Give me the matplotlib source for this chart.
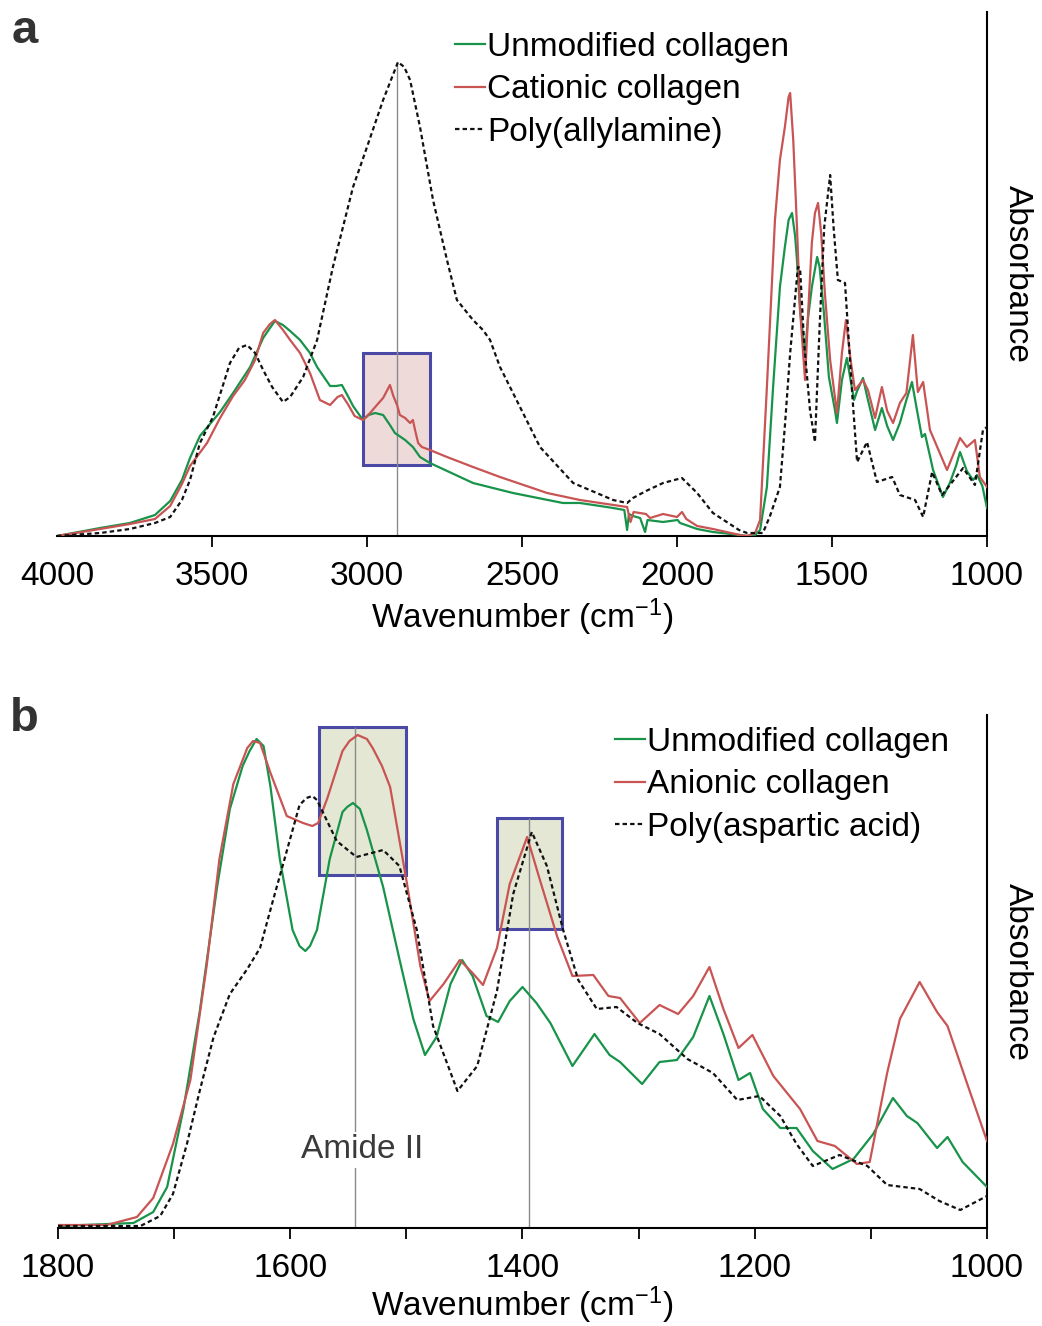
import numpy as np
import matplotlib
matplotlib.use("Agg")
import matplotlib.pyplot as plt
from matplotlib.patches import Rectangle

# Espectros FTIR (absorbancia en unidades arbitrarias)
# Panel a: colageno sin modificar, colageno cationico, poli(alilamina)
wn_a_unmod = [4000, 3861, 3765, 3684, 3635, 3597, 3571, 3539, 3474, 3432, 3377, 3335, 3313, 3297, 3271,
              3248, 3216, 3184, 3161, 3119, 3100, 3081, 3060, 3045, 3013, 2995, 2974, 2948, 2926, 2910,
              2877, 2852, 2829, 2797, 2658, 2529, 2368, 2313, 2248, 2206, 2170, 2161, 2155, 2142, 2119,
              2103, 2095, 2045, 1998, 1990, 1935, 1884, 1797, 1774, 1748, 1732, 1710, 1690, 1668, 1652,
              1640, 1629, 1619, 1613, 1603, 1587, 1577, 1565, 1548, 1540, 1526, 1510, 1490, 1484, 1468,
              1452, 1440, 1429, 1419, 1400, 1387, 1361, 1339, 1322, 1303, 1281, 1260, 1242, 1226, 1210,
              1200, 1184, 1174, 1142, 1120, 1100, 1087, 1065, 1045, 1032, 1015, 1000]
abs_a_unmod = [0, 8, 13, 21, 35, 56, 78, 100, 124, 143, 169, 198, 208, 215, 211,
               205, 196, 183, 169, 150, 150, 151, 139, 130, 116, 121, 123, 121, 111, 103,
               96, 89, 79, 73, 53, 43, 33, 33, 30, 28, 26, 6, 22, 20, 18,
               4, 16, 14, 16, 13, 7, 4, 1, 0, 1, 6, 49, 149, 249, 289,
               316, 323, 300, 276, 226, 183, 219, 249, 279, 269, 223, 159, 125, 113, 156,
               178, 156, 136, 145, 158, 140, 106, 128, 110, 96, 113, 136, 154, 126, 99,
               102, 80, 66, 39, 53, 70, 84, 65, 56, 61, 50, 28]

wn_a_cat = [4000, 3861, 3765, 3684, 3635, 3597, 3571, 3516, 3474, 3432, 3394, 3361, 3335, 3313, 3297,
            3271, 3248, 3216, 3184, 3152, 3119, 3095, 3081, 3060, 3040, 3013, 2990, 2968, 2948, 2926,
            2915, 2903, 2894, 2877, 2861, 2852, 2845, 2835, 2823, 2797, 2742, 2658, 2571, 2419, 2313,
            2248, 2161, 2150, 2140, 2100, 2087, 2045, 2000, 1984, 1970, 1935, 1884, 1797, 1774, 1748,
            1732, 1710, 1684, 1668, 1652, 1640, 1635, 1625, 1613, 1603, 1587, 1577, 1565, 1555, 1545,
            1535, 1523, 1506, 1484, 1468, 1455, 1440, 1426, 1400, 1384, 1361, 1339, 1322, 1303, 1281,
            1260, 1239, 1223, 1206, 1184, 1129, 1087, 1065, 1039, 1023, 1000]
abs_a_cat = [0, 7, 12, 17, 30, 52, 70, 93, 118, 140, 156, 176, 203, 212, 216,
             206, 196, 183, 163, 136, 131, 139, 141, 131, 120, 116, 123, 131, 138, 151,
             140, 131, 121, 118, 113, 116, 106, 93, 89, 86, 79, 69, 59, 43, 36,
             33, 29, 14, 24, 22, 18, 22, 19, 24, 17, 10, 7, 1, 0, 3,
             16, 149, 316, 376, 409, 439, 443, 396, 309, 226, 156, 223, 293, 323, 333,
             303, 243, 176, 123, 183, 216, 176, 146, 156, 146, 118, 149, 125, 113, 133,
             143, 201, 144, 154, 106, 66, 98, 89, 96, 59, 49]

wn_a_paa = [4000, 3861, 3765, 3684, 3635, 3597, 3571, 3539, 3497, 3442, 3413, 3387, 3361, 3335, 3306,
            3271, 3248, 3206, 3161, 3110, 3045, 3000, 2948, 2900, 2880, 2861, 2829, 2787, 2742, 2710,
            2658, 2626, 2603, 2571, 2529, 2442, 2335, 2206, 2161, 2142, 2100, 2045, 1984, 1935, 1884,
            1800, 1774, 1723, 1700, 1668, 1652, 1635, 1610, 1603, 1590, 1571, 1555, 1540, 1525, 1506,
            1495, 1481, 1458, 1435, 1419, 1387, 1355, 1306, 1281, 1232, 1206, 1177, 1145, 1077, 1039,
            1013, 1000]
abs_a_paa = [0, 3, 7, 13, 19, 36, 56, 93, 119, 173, 188, 191, 183, 166, 149,
             134, 139, 159, 196, 269, 349, 389, 436, 474, 469, 456, 409, 336, 276, 236,
             216, 206, 196, 169, 143, 89, 53, 36, 33, 38, 45, 53, 58, 43, 23,
             6, 3, 3, 20, 49, 110, 183, 269, 268, 193, 126, 94, 209, 309, 361,
             309, 256, 253, 143, 74, 94, 54, 59, 41, 36, 19, 64, 41, 68, 51,
             106, 109]

# Panel b: colageno sin modificar, colageno anionico, poli(acido aspartico)
wn_b_unmod = [1800, 1735, 1718, 1706, 1692, 1678, 1663, 1652, 1641, 1635, 1629, 1623, 1617, 1609, 1598,
              1592, 1587, 1583, 1577, 1566, 1555, 1551, 1546, 1540, 1534, 1520, 1506, 1494, 1484, 1474,
              1462, 1452, 1443, 1431, 1421, 1411, 1400, 1388, 1376, 1357, 1338, 1325, 1316, 1297, 1282,
              1267, 1253, 1239, 1227, 1214, 1204, 1193, 1178, 1164, 1150, 1133, 1115, 1098, 1081, 1069,
              1060, 1043, 1034, 1021, 1000]
abs_b_unmod = [2, 5, 16, 41, 119, 216, 341, 419, 462, 477, 489, 482, 441, 369, 298,
               282, 277, 282, 298, 369, 416, 421, 425, 419, 398, 341, 269, 209, 173, 191,
               244, 268, 252, 212, 206, 227, 241, 225, 205, 162, 194, 173, 166, 144, 166,
               168, 191, 232, 194, 148, 155, 119, 100, 100, 77, 59, 69, 94, 130, 112,
               105, 80, 91, 66, 41]

wn_b_anion = [1800, 1758, 1732, 1718, 1701, 1686, 1672, 1661, 1649, 1637, 1632, 1626, 1617, 1603, 1589,
              1581, 1576, 1568, 1555, 1549, 1542, 1534, 1529, 1521, 1514, 1500, 1488, 1480, 1468, 1454,
              1443, 1434, 1422, 1411, 1396, 1385, 1370, 1357, 1339, 1326, 1316, 1299, 1282, 1266, 1253,
              1239, 1227, 1214, 1202, 1184, 1161, 1146, 1131, 1112, 1101, 1086, 1075, 1058, 1043, 1034,
              1017, 1000]
abs_b_anion = [3, 3, 11, 30, 84, 148, 262, 369, 444, 480, 487, 485, 455, 412, 405,
               402, 405, 430, 477, 487, 493, 489, 480, 462, 441, 348, 262, 227, 244, 268,
               255, 243, 280, 344, 391, 348, 291, 252, 253, 232, 230, 205, 223, 214, 232,
               261, 219, 180, 193, 152, 119, 87, 82, 64, 66, 155, 209, 246, 216, 202,
               144, 87]

wn_b_pasp = [1800, 1729, 1712, 1701, 1689, 1678, 1666, 1652, 1637, 1626, 1615, 1603, 1592, 1586, 1581,
             1577, 1572, 1560, 1543, 1520, 1506, 1491, 1477, 1456, 1439, 1422, 1408, 1392, 1379, 1365,
             1352, 1336, 1319, 1301, 1282, 1258, 1236, 1215, 1196, 1178, 1164, 1150, 1127, 1103, 1086,
             1058, 1041, 1023, 1000]
abs_b_pasp = [2, 2, 12, 34, 84, 137, 191, 234, 259, 280, 327, 377, 423, 430, 432,
              428, 416, 387, 371, 378, 362, 298, 202, 137, 162, 237, 334, 396, 362, 298,
              248, 219, 221, 205, 194, 169, 155, 128, 132, 112, 84, 62, 73, 62, 43,
              39, 27, 18, 32]

labels_a = ["Unmodified collagen", "Cationic collagen", "Poly(allylamine)"]
labels_b = ["Unmodified collagen", "Anionic collagen", "Poly(aspartic acid)"]

GREEN = "#17934a"
RED = "#c85453"
BLACK = "#111111"
GRAY = "#8a8a8a"
EDGE = "#4a4aa6"
FS = 24

plt.rcParams["font.family"] = ["Liberation Sans", "DejaVu Sans"]
plt.rcParams["mathtext.fontset"] = "custom"
plt.rcParams["mathtext.rm"] = "Liberation Sans"
plt.rcParams["mathtext.default"] = "regular"

W, H = 1042, 1326
fig = plt.figure(figsize=(W / 100, H / 100), dpi=100)
ax_a = fig.add_axes([57 / W, 1 - 536 / H, 930 / W, 524 / H])
ax_b = fig.add_axes([58 / W, 1 - 1228 / H, 929 / W, 513 / H])


def estilo(ax, pad_label):
    for lado in ["left", "top"]:
        ax.spines[lado].set_visible(False)
    for lado in ["right", "bottom"]:
        ax.spines[lado].set_linewidth(1.5)
    ax.set_yticks([])
    ax.yaxis.set_label_position("right")
    ax.set_ylabel("Absorbance", rotation=270, fontsize=FS, labelpad=33)
    ax.set_xlabel("Wavenumber (cm$^{-1}$)", fontsize=FS, labelpad=pad_label)
    ax.tick_params(axis="x", which="both", direction="out", length=8, width=1.3,
                   pad=10, labelsize=FS)


def leyenda(ax, lineas, etiquetas, x, y):
    ax.legend(lineas, etiquetas, loc="upper left", bbox_to_anchor=(x / W, 1 - y / H),
              bbox_transform=fig.transFigure, frameon=False, fontsize=FS,
              handlelength=0.9, handletextpad=0.06, labelspacing=0.34,
              borderpad=0, borderaxespad=0)


# ---- panel a ----
la1, = ax_a.plot(wn_a_unmod, abs_a_unmod, color=GREEN, lw=1.6, zorder=3)
la2, = ax_a.plot(wn_a_cat, abs_a_cat, color=RED, lw=1.6, zorder=3)
la3, = ax_a.plot(wn_a_paa, abs_a_paa, color=BLACK, lw=1.6, ls=(0, (2, 1.4)), zorder=3)
ax_a.add_patch(Rectangle((2797, 71), 216, 112, facecolor="#efdada", edgecolor=EDGE,
                         lw=2.2, zorder=1))
ax_a.vlines(2903, 0, 474, color=GRAY, lw=1, zorder=2)
ax_a.set_xlim(4000, 1000)
ax_a.set_ylim(0, 524)
ax_a.set_xticks(np.arange(4000, 999, -500))
estilo(ax_a, 3)
ax_a.xaxis.get_major_ticks()[0].tick1line.set_visible(False)
leyenda(ax_a, [la1, la2, la3], labels_a, 455, 32)

# ---- panel b ----
lb1, = ax_b.plot(wn_b_unmod, abs_b_unmod, color=GREEN, lw=1.6, zorder=3)
lb2, = ax_b.plot(wn_b_anion, abs_b_anion, color=RED, lw=1.6, zorder=3)
lb3, = ax_b.plot(wn_b_pasp, abs_b_pasp, color=BLACK, lw=1.6, ls=(0, (2, 1.4)), zorder=3)
ax_b.add_patch(Rectangle((1500, 353), 75, 148, facecolor="#e4e7d3", edgecolor=EDGE,
                         lw=2.2, zorder=1))
ax_b.add_patch(Rectangle((1366, 299), 56, 111, facecolor="#e4e7d3", edgecolor=EDGE,
                         lw=2.2, zorder=1))
ax_b.vlines(1544, 0, 501, color=GRAY, lw=1, zorder=2)
ax_b.vlines(1394, 0, 410, color=GRAY, lw=1, zorder=2)
ax_b.text(1538, 78, "Amide II", ha="center", va="center", fontsize=FS, color="#3a3a3a",
          bbox=dict(facecolor="white", edgecolor="none", pad=2), zorder=2.5)
ax_b.set_xlim(1800, 1000)
ax_b.set_ylim(0, 513)
ax_b.set_xticks(np.arange(1800, 999, -200))
ax_b.set_xticks([1700, 1500, 1300, 1100], minor=True)
estilo(ax_b, 0)
leyenda(ax_b, [lb1, lb2, lb3], labels_b, 615, 727)

# letras de los paneles
fig.text(12 / W, 1 - 43 / H, "a", fontsize=34, fontweight="bold", color="#333333", va="baseline")
fig.text(10 / W, 1 - 731 / H, "b", fontsize=34, fontweight="bold", color="#333333", va="baseline")

fig.savefig("out.png", dpi=100)
